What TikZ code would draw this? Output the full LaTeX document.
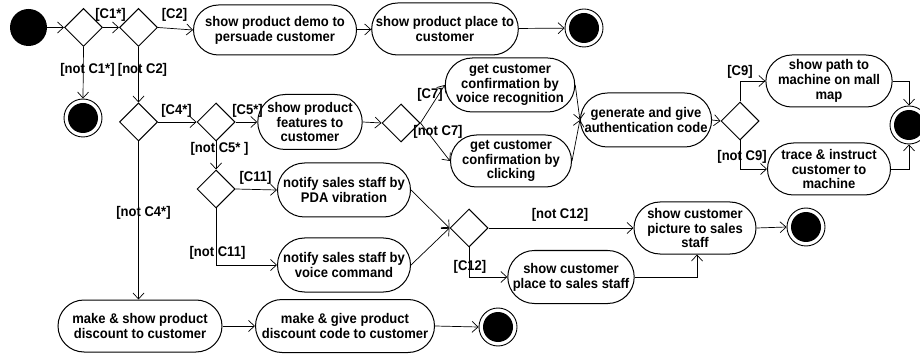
\documentclass[tikz,border=0pt]{standalone}
\usepackage{fontspec}
\setmainfont{Liberation Sans}[FakeStretch=0.93]
\usetikzlibrary{shapes.geometric,shapes.misc,arrows.meta}

\begin{document}
\begin{tikzpicture}[x=1pt,y=-1pt,
  every node/.style={font=\bfseries\fontsize{14}{14.8}\selectfont},
  act/.style={rounded rectangle, draw, line width=1pt, align=center, inner sep=1pt},
  dec/.style={diamond, draw, line width=1pt, minimum width=38pt, minimum height=38pt, inner sep=0pt},
  startnode/.style={circle, fill=black, minimum size=37pt, inner sep=0pt},
  endnode/.style={circle, draw, line width=0.9pt, minimum size=38pt, inner sep=0pt,
    path picture={\fill[black] (path picture bounding box.center) circle (15pt);}},
  flow/.style={line width=0.7pt, -{Straight Barb[length=6pt,width=11pt]}},
  lbl/.style={inner sep=0pt}
]
\useasboundingbox (0,0) rectangle (920,355);

% activities and control nodes
\node[startnode] (S) at (28.5,27.5) {};
\node[dec] (D1) at (83.5,27.5) {};
\node[dec] (D2) at (138.5,27.5) {};
\node[act, minimum width=165pt, minimum height=50pt] (A1) at (275,30) {show product demo to\\persuade customer};
\node[act, minimum width=136pt, minimum height=52pt] (A2) at (445,29) {show product place to\\customer};
\node[endnode] (F1) at (584,28) {};
\node[endnode] (F0) at (83,118) {};
\node[dec] (D3) at (138.5,122) {};
\node[dec] (D4) at (216,122) {};
\node[act, minimum width=96pt, minimum height=55pt] (A3) at (310,122) {show product\\features to\\customer};
\node[dec] (D5) at (401,123) {};
\node[act, minimum width=124pt, minimum height=54pt] (A4) at (510,85) {get customer\\confirmation by\\voice recognition};
\node[act, minimum width=123pt, minimum height=52pt] (A5) at (511,161) {get customer\\confirmation by\\clicking};
\node[act, minimum width=122pt, minimum height=54pt] (A6) at (646,120) {generate and give\\authentication code};
\node[dec] (D6) at (740,121) {};
\node[act, minimum width=122pt, minimum height=52pt] (A7) at (829,81) {show path to\\machine on mall\\map};
\node[act, minimum width=125pt, minimum height=52pt] (A8) at (829,169) {trace \& instruct\\customer to\\machine};
\node[endnode] (F2) at (909,125) {};
\node[dec] (D7) at (216,189) {};
\node[act, minimum width=135pt, minimum height=54pt] (A9) at (344,190) {notify sales staff by\\PDA vibration};
\node[act, minimum width=135pt, minimum height=54pt] (A10) at (344,265) {notify sales staff by\\voice command};
\node[dec] (D8) at (469,228) {};
\node[act, minimum width=124pt, minimum height=52pt] (A11) at (695,228) {show customer\\picture to sales\\staff};
\node[act, minimum width=123pt, minimum height=53pt] (A12) at (571,277) {show customer\\place to sales staff};
\node[endnode] (F3) at (806,227) {};
\node[act, minimum width=166pt, minimum height=52pt] (A13) at (140,326) {make \& show product\\discount to customer};
\node[act, minimum width=181pt, minimum height=53pt] (A14) at (345,326) {make \& give product\\discount code to customer};
\node[endnode] (F4) at (498,327) {};

% control flow
\draw[flow] (S) -- (D1.west);
\draw[flow] (D1.east) -- (D2.west);
\draw[flow] (D2.east) -- (A1.west);
\draw[flow] (A1) -- (A2);
\draw[flow] (A2) -- (F1);
\draw[flow] (D1.south) -- (F0.north);
\draw[flow] (D2.south) -- (D3.north);
\draw[flow] (D3.east) -- (D4.west);
\draw[flow] (D4.east) -- (A3.west);
\draw[flow] (D4.south) -- (D7.north);
\draw[flow] (A3.east) -- (D5.west);
\draw[flow] (D5.east) -- (A4.west);
\draw[flow] (D5.east) -- (A5.west);
\draw[flow] (A4.east) -- (A6.west);
\draw[flow] (A5.east) -- (A6.west);
\draw[flow] (A6.east) -- (D6.west);
\draw[flow] (D6.north) |- (A7.west);
\draw[flow] (D6.south) |- (A8.west);
\draw[flow] (A7.east) -| (F2.north);
\draw[flow] (A8.east) -| (F2.south);
\draw[flow] (D7.east) -- (A9.west);
\draw[flow] (D7.south) |- (A10.west);
\draw[flow] (A9.east) -- (D8.west);
\draw[flow] (A10.east) -- (D8.west);
\draw[flow] (D8.east) -- (A11.west);
\draw[flow] (D8.south) |- (A12.west);
\draw[flow] (A12.east) -| ([xshift=2pt]A11.south);
\draw[flow] (A11.east) -- (F3.west);
\draw[flow] (D3.south) -- (D3.south |- A13.north);
\draw[flow] (A13.east) -- (A14.west);
\draw[flow] (A14.east) -- (F4.west);

% guards
\node[lbl] (gC1) at (110.5,15) {[C1*]};
\node[lbl] (gC2) at (174.5,15) {[C2]};
\node[lbl] (gnC1) at (87.5,70) {[not C1*]};
\node[lbl] (gnC2) at (142.5,70) {[not C2]};
\node[lbl] (gC4) at (176.5,111) {[C4*]};
\node[lbl] (gC5) at (247.5,111) {[C5*]};
\node[lbl] (gnC5) at (219.5,149) {[not C5* ]};
\node[lbl] (gC7) at (430,95) {[C7]};
\node[lbl] (gnC7) at (438,132) {[not C7]};
\node[lbl] (gC9) at (740,72) {[C9]};
\node[lbl] (gnC9) at (742,157) {[not C9]};
\node[lbl] (gC11) at (255.5,178) {[C11]};
\node[lbl] (gnC11) at (217.5,253) {[not C11]};
\node[lbl] (gnC12) at (560,215) {[not C12]};
\node[lbl] (gC12) at (470,267) {[C12]};
\node[lbl] (gnC4) at (143.5,213) {[not C4*]};
\end{tikzpicture}
\end{document}
